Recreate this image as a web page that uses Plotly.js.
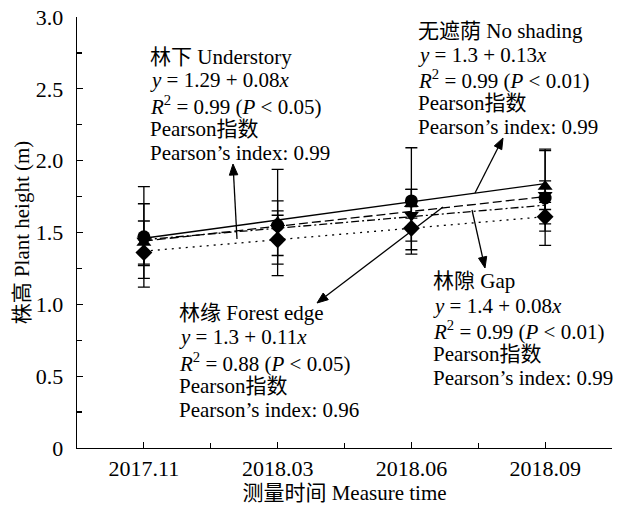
<!DOCTYPE html>
<html>
<head>
<meta charset="utf-8">
<script src="https://cdn.plot.ly/plotly-3.0.1.min.js"></script>
<style>html,body{margin:0;padding:0;background:#fff;}#chart{width:618px;height:505px;}</style>
</head>
<body>
<div id="chart"></div>
<script>
// ---- data ----
const categories = ['2017.11', '2018.03', '2018.06', '2018.09'];
const catPos = [0, 1, 2, 3];

const noShading   = [1.43, 1.57, 1.70, 1.82];
const noShadingErr = [0.15, 0.37, 0.10, 0.26];
const gap         = [1.47, 1.55, 1.72, 1.74];
const gapErr      = [0.35, 0.10, 0.37, 0.33];
const forestEdge  = [1.44, 1.53, 1.62, 1.76];
const forestEdgeErr = [0.26, 0.19, 0.18, 0.10];
const understory  = [1.36, 1.45, 1.53, 1.61];
const understoryErr = [0.09, 0.17, 0.15, 0.10];

// fitted lines (start at 2017.11, end at 2018.09)
const fitX = [0, 3];
const fitNoShading  = [1.46, 1.84];
const fitForestEdge = [1.44, 1.75];
const fitGap        = [1.45, 1.69];
const fitUnderstory = [1.37, 1.61];

const yTickVals = [0, 0.5, 1.0, 1.5, 2.0, 2.5, 3.0];
const yTickText = ['0', '0.5', '1.0', '1.5', '2.0', '2.5', '3.0'];

const labelUnderstory = ['林下 Understory', '<i>y</i> = 1.29 + 0.08<i>x</i>', '<i>R</i><sup>2</sup> = 0.99 (<i>P</i> &lt; 0.05)', 'Pearson指数', 'Pearson’s index: 0.99'];
const labelNoShading  = ['无遮荫 No shading', '<i>y</i> = 1.3 + 0.13<i>x</i>', '<i>R</i><sup>2</sup> = 0.99 (<i>P</i> &lt; 0.01)', 'Pearson指数', 'Pearson’s index: 0.99'];
const labelForestEdge = ['林缘 Forest edge', '<i>y</i> = 1.3 + 0.11<i>x</i>', '<i>R</i><sup>2</sup> = 0.88 (<i>P</i> &lt; 0.05)', 'Pearson指数', 'Pearson’s index: 0.96'];
const labelGap        = ['林隙 Gap', '<i>y</i> = 1.4 + 0.08<i>x</i>', '<i>R</i><sup>2</sup> = 0.99 (<i>P</i> &lt; 0.01)', 'Pearson指数', 'Pearson’s index: 0.99'];

// ---- layout geometry ----
const W = 618, H = 505;
const M = {l: 77, r: 6, t: 17, b: 57};
const FONT = '"Liberation Serif", "Times New Roman", Times, "Noto Sans CJK SC", serif';
const FS = 21, TFS = 22;
const xRange = [-0.5, 3.5], yRange = [0, 3];
const pw = W - M.l - M.r, ph = H - M.t - M.b;
function dx(px) { return xRange[0] + (px - M.l) / pw * (xRange[1] - xRange[0]); }
function dy(py) { return yRange[0] + (H - M.b - py) / ph * (yRange[1] - yRange[0]); }

function errTrace(y, err, sym) {
  return {
    x: catPos, y: y, type: 'scatter', mode: 'markers',
    marker: {symbol: sym, size: 13, color: '#000'},
    error_y: {type: 'data', array: err, visible: true, color: '#000', thickness: 1.3, width: 6},
    showlegend: false, hoverinfo: 'skip'
  };
}
function fitTrace(y, dash) {
  return {x: fitX, y: y, type: 'scatter', mode: 'lines',
    line: {color: '#000', width: 1.3, dash: dash}, showlegend: false, hoverinfo: 'skip'};
}

const traces = [
  fitTrace(fitNoShading, 'solid'),
  fitTrace(fitForestEdge, '9px,4px'),
  fitTrace(fitGap, '8px,3px,2px,3px'),
  fitTrace(fitUnderstory, '2px,5px'),
  errTrace(understory, understoryErr, 'diamond'),
  errTrace(forestEdge, forestEdgeErr, 'triangle-down'),
  errTrace(gap, gapErr, 'circle'),
  errTrace(noShading, noShadingErr, 'triangle-up')
];

const annotations = [];
function block(lines, leftPx, centersPx) {
  lines.forEach((t, i) => {
    annotations.push({x: dx(leftPx), y: dy(centersPx[i]), xref: 'x', yref: 'y', text: t,
      showarrow: false, xanchor: 'left', yanchor: 'middle', font: {family: FONT, size: FS, color: '#000'}});
  });
}
block(labelUnderstory, 148, [57, 80, 105, 129, 153]);
block(labelNoShading, 416, [31, 55, 79, 103, 127]);
block(labelForestEdge, 177, [313, 337, 362, 386, 410]);
block(labelGap, 431, [281, 306, 330, 354, 378]);

// arrows drawn as shapes: a line from the fit line to the label, with a filled head
const shapes = [];
function arrow(headPx, tailPx) {
  const vx = headPx[0] - tailPx[0], vy = headPx[1] - tailPx[1];
  const len = Math.hypot(vx, vy), ux = vx / len, uy = vy / len;
  const L = 11, Wd = 4.2;
  const bx = headPx[0] - ux * L, by = headPx[1] - uy * L;
  const p1 = [bx - uy * Wd, by + ux * Wd], p2 = [bx + uy * Wd, by - ux * Wd];
  shapes.push({type: 'line', xref: 'x', yref: 'y', x0: dx(tailPx[0]), y0: dy(tailPx[1]), x1: dx(bx), y1: dy(by),
    line: {color: '#000', width: 1.3}});
  shapes.push({type: 'path', xref: 'x', yref: 'y',
    path: 'M' + dx(headPx[0]) + ',' + dy(headPx[1]) + ' L' + dx(p1[0]) + ',' + dy(p1[1]) + ' L' + dx(p2[0]) + ',' + dy(p2[1]) + ' Z',
    fillcolor: '#000', line: {color: '#000', width: 1}});
}
arrow([233, 164], [237, 239]);
arrow([503, 138], [475, 193]);
arrow([485, 268], [472, 210]);
arrow([317, 303], [443, 207]);

const layout = {
  width: W, height: H, margin: M,
  paper_bgcolor: '#fff', plot_bgcolor: '#fff',
  font: {family: FONT, size: FS, color: '#000'},
  showlegend: false,
  xaxis: {
    range: xRange, tickvals: catPos, ticktext: categories,
    ticks: 'inside', ticklen: 6, tickwidth: 1.2, tickcolor: '#000',
    showline: true, linecolor: '#000', linewidth: 1.3, showgrid: false, zeroline: false,
    minor: {tickvals: [0.5, 1.5, 2.5, 3.5], ticks: 'inside', ticklen: 5, tickwidth: 1.2, tickcolor: '#000', showgrid: false},
    tickfont: {family: FONT, size: TFS, color: '#000'},
    ticklabelstandoff: 0,
    title: {text: '测量时间 Measure time', font: {family: FONT, size: FS, color: '#000'}, standoff: 1},
    automargin: false
  },
  yaxis: {
    range: yRange, tickvals: yTickVals, ticktext: yTickText,
    ticks: 'inside', ticklen: 6, tickwidth: 1.2, tickcolor: '#000',
    showline: true, linecolor: '#000', linewidth: 1.3, showgrid: false, zeroline: false,
    minor: {dtick: 0.25, ticks: 'inside', ticklen: 5, tickwidth: 1.2, tickcolor: '#000', showgrid: false},
    tickfont: {family: FONT, size: TFS, color: '#000'},
    ticklabelstandoff: 8,
    title: {text: '株高 Plant height (m)', font: {family: FONT, size: FS, color: '#000'}, standoff: 0},
    automargin: false
  },
  shapes: shapes,
  annotations: annotations
};

Plotly.newPlot('chart', traces, layout, {staticPlot: true, displayModeBar: false});
</script>
</body>
</html>
